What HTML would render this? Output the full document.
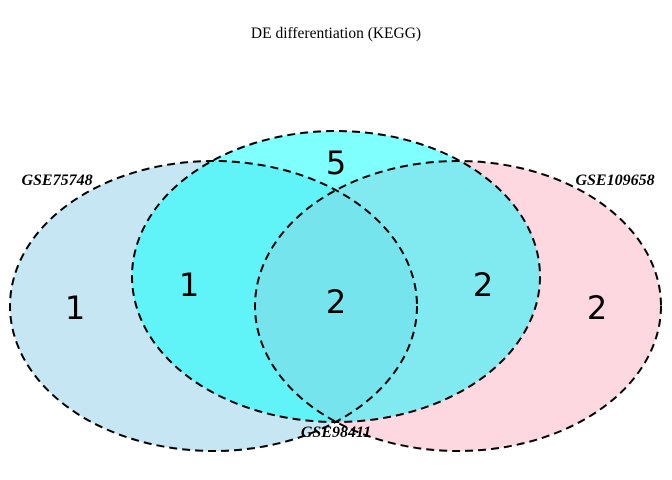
<html><body style="margin:0;background:#fff">
<svg width="672" height="480" xmlns="http://www.w3.org/2000/svg" style="font-family:'Liberation Serif',serif">
<defs>
<clipPath id="L"><ellipse cx="213.5" cy="306" rx="203.5" ry="145"/></clipPath>
<clipPath id="R"><ellipse cx="458" cy="306" rx="203" ry="145"/></clipPath>
<clipPath id="T"><ellipse cx="336" cy="276.5" rx="204" ry="145.5"/></clipPath>
</defs>
<ellipse cx="213.5" cy="306" rx="203.5" ry="145" fill="#c6e6f3"/>
<ellipse cx="458" cy="306" rx="203" ry="145" fill="#fed8e1"/>
<ellipse cx="336" cy="276.5" rx="204" ry="145.5" fill="#80ffff"/>
<g clip-path="url(#T)"><ellipse cx="213.5" cy="306" rx="203.5" ry="145" fill="#60f4f8"/>
<ellipse cx="458" cy="306" rx="203" ry="145" fill="#80eaf0"/>
<g clip-path="url(#L)"><ellipse cx="458" cy="306" rx="203" ry="145" fill="#76e4ec"/></g></g>
<g fill="none" stroke="#000" stroke-width="2" stroke-dasharray="8,5">
<ellipse cx="213.5" cy="306" rx="203.5" ry="145"/>
<ellipse cx="458" cy="306" rx="203" ry="145"/>
<ellipse cx="336" cy="276.5" rx="204" ry="145.5"/>
</g>
<text x="336" y="38" font-size="15.5" text-anchor="middle">DE differentiation (KEGG)</text>
<g font-size="16" font-weight="bold" font-style="italic" text-anchor="middle">
<text x="57" y="185">GSE75748</text>
<text x="615" y="185">GSE109658</text>
<text x="336" y="437">GSE98411</text>
</g>
<g font-family="'DejaVu Sans',sans-serif" font-size="32" text-anchor="middle">
<text x="336" y="174">5</text>
<text x="75" y="319">1</text>
<text x="189" y="296">1</text>
<text x="336" y="313">2</text>
<text x="483" y="296">2</text>
<text x="597" y="319">2</text>
</g>
</svg>
</body></html>
